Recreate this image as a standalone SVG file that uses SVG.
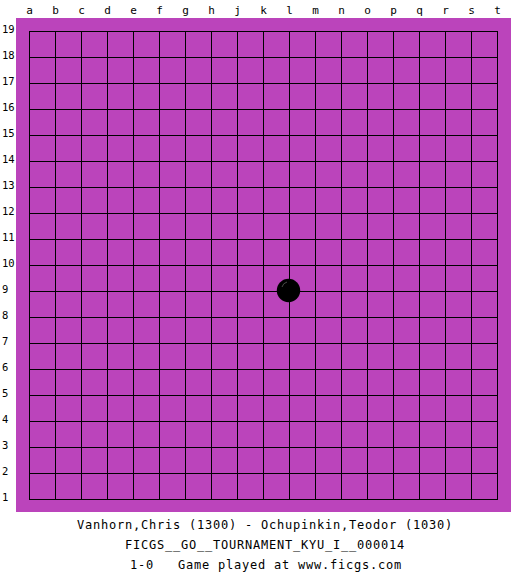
<svg xmlns="http://www.w3.org/2000/svg" width="525" height="575" viewBox="0 0 525 575">
<defs>
<style>
.lbl{font-family:"DejaVu Sans Mono","Liberation Mono",monospace;font-size:11px;fill:#000}
.row{font-size:10.5px}
.col{text-anchor:middle}
.cap{font-family:"DejaVu Sans Mono","Liberation Mono",monospace;font-size:12px;letter-spacing:0.78px;fill:#000;text-anchor:middle;white-space:pre}
.grid line{stroke:#000;stroke-width:1}
</style>
</defs>
<rect width="525" height="575" fill="#ffffff"/>
<rect id="board" x="16" y="18" width="495" height="494" fill="#BB44BB"/>
<g id="grid" class="grid">
<line x1="29.5" y1="31" x2="29.5" y2="500"/>
<line x1="55.5" y1="31" x2="55.5" y2="500"/>
<line x1="81.5" y1="31" x2="81.5" y2="500"/>
<line x1="107.5" y1="31" x2="107.5" y2="500"/>
<line x1="133.5" y1="31" x2="133.5" y2="500"/>
<line x1="159.5" y1="31" x2="159.5" y2="500"/>
<line x1="185.5" y1="31" x2="185.5" y2="500"/>
<line x1="211.5" y1="31" x2="211.5" y2="500"/>
<line x1="237.5" y1="31" x2="237.5" y2="500"/>
<line x1="263.5" y1="31" x2="263.5" y2="500"/>
<line x1="289.5" y1="31" x2="289.5" y2="500"/>
<line x1="315.5" y1="31" x2="315.5" y2="500"/>
<line x1="341.5" y1="31" x2="341.5" y2="500"/>
<line x1="367.5" y1="31" x2="367.5" y2="500"/>
<line x1="393.5" y1="31" x2="393.5" y2="500"/>
<line x1="419.5" y1="31" x2="419.5" y2="500"/>
<line x1="445.5" y1="31" x2="445.5" y2="500"/>
<line x1="471.5" y1="31" x2="471.5" y2="500"/>
<line x1="497.5" y1="31" x2="497.5" y2="500"/>
<line x1="29" y1="31.5" x2="498" y2="31.5"/>
<line x1="29" y1="57.5" x2="498" y2="57.5"/>
<line x1="29" y1="83.5" x2="498" y2="83.5"/>
<line x1="29" y1="109.5" x2="498" y2="109.5"/>
<line x1="29" y1="135.5" x2="498" y2="135.5"/>
<line x1="29" y1="161.5" x2="498" y2="161.5"/>
<line x1="29" y1="187.5" x2="498" y2="187.5"/>
<line x1="29" y1="213.5" x2="498" y2="213.5"/>
<line x1="29" y1="239.5" x2="498" y2="239.5"/>
<line x1="29" y1="265.5" x2="498" y2="265.5"/>
<line x1="29" y1="291.5" x2="498" y2="291.5"/>
<line x1="29" y1="317.5" x2="498" y2="317.5"/>
<line x1="29" y1="343.5" x2="498" y2="343.5"/>
<line x1="29" y1="369.5" x2="498" y2="369.5"/>
<line x1="29" y1="395.5" x2="498" y2="395.5"/>
<line x1="29" y1="421.5" x2="498" y2="421.5"/>
<line x1="29" y1="447.5" x2="498" y2="447.5"/>
<line x1="29" y1="473.5" x2="498" y2="473.5"/>
<line x1="29" y1="499.5" x2="498" y2="499.5"/>
</g>
<g id="col-labels" class="lbl col">
<text x="29.5" y="14">a</text>
<text x="55.5" y="14">b</text>
<text x="81.5" y="14">c</text>
<text x="107.5" y="14">d</text>
<text x="133.5" y="14">e</text>
<text x="159.5" y="14">f</text>
<text x="185.5" y="14">g</text>
<text x="211.5" y="14">h</text>
<text x="237.5" y="14">j</text>
<text x="263.5" y="14">k</text>
<text x="289.5" y="14">l</text>
<text x="315.5" y="14">m</text>
<text x="341.5" y="14">n</text>
<text x="367.5" y="14">o</text>
<text x="393.5" y="14">p</text>
<text x="419.5" y="14">q</text>
<text x="445.5" y="14">r</text>
<text x="471.5" y="14">s</text>
<text x="497.5" y="14">t</text>
</g>
<g id="row-labels" class="lbl row">
<text x="2" y="33">19</text>
<text x="2" y="59">18</text>
<text x="2" y="85">17</text>
<text x="2" y="111">16</text>
<text x="2" y="137">15</text>
<text x="2" y="163">14</text>
<text x="2" y="189">13</text>
<text x="2" y="215">12</text>
<text x="2" y="241">11</text>
<text x="2" y="267">10</text>
<text x="2" y="293">9</text>
<text x="2" y="319">8</text>
<text x="2" y="345">7</text>
<text x="2" y="371">6</text>
<text x="2" y="397">5</text>
<text x="2" y="423">4</text>
<text x="2" y="449">3</text>
<text x="2" y="475">2</text>
<text x="2" y="501">1</text>
</g>
<g id="stone-l9">
<circle cx="288.5" cy="290.5" r="11.7" fill="#000"/>
<path d="M282 287 A7 7 0 0 1 287 282" fill="none" stroke="#4a4a4a" stroke-width="1"/>
</g>
<g id="caption">
<text class="cap" x="265" y="528.5">Vanhorn,Chris (1300) - Ochupinkin,Teodor (1030)</text>
<text class="cap" x="265" y="548.5">FICGS__GO__TOURNAMENT_KYU_I__000014</text>
<text class="cap" x="266" y="568.5">1-0   Game played at www.ficgs.com</text>
</g>
</svg>
